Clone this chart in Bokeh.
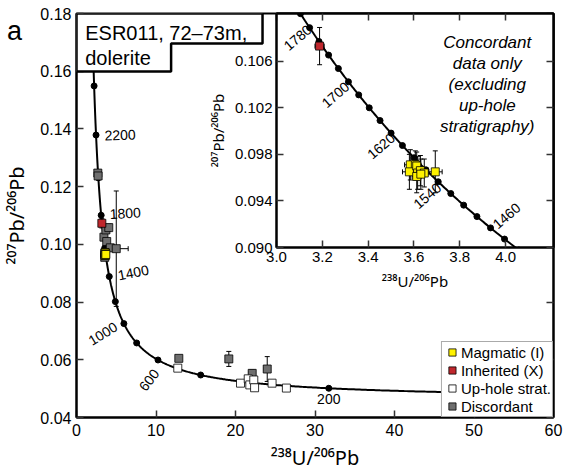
import numpy as np
from bokeh.plotting import figure
from bokeh.models import (ColumnDataSource, Whisker, TeeHead, Label, Legend, LegendItem,
                          LinearAxis, FixedTicker, PrintfTickFormatter, PolyAnnotation, Range1d, Div)
from bokeh.layouts import column
from bokeh.embed import file_html
from bokeh.resources import INLINE

FONT = "Liberation Sans"
LABEL_FONT = "Noto Sans"

# ---------------- data ----------------
magmatic_x = [3.584, 3.606, 3.580, 3.612, 3.616, 3.628, 3.645, 3.612, 3.630, 3.693]
magmatic_y = [0.0971, 0.0971, 0.0965, 0.0970, 0.0964, 0.0966, 0.0964, 0.0961, 0.0963, 0.0965]
magmatic_xerr = [0.025, 0.02, 0.03, 0.02, 0.02, 0.02, 0.02, 0.02, 0.02, 0.03]
magmatic_yerr = [0.0013, 0.0012, 0.0015, 0.0012, 0.0014, 0.0013, 0.0012, 0.0014, 0.0013, 0.0018]

inherited_x = [3.188]
inherited_y = [0.1073]
inherited_xerr = [0.02]
inherited_yerr = [0.0016]

uphole_x = [12.74, 20.63, 21.6, 21.8, 22.3, 22.4, 24.6, 26.4]
uphole_y = [0.0571, 0.0519, 0.0534, 0.0513, 0.0530, 0.0503, 0.0519, 0.0502]
uphole_xerr = [0.3, 0.3, 0.3, 0.3, 0.3, 0.3, 0.3, 0.3]
uphole_yerr = [0.0005, 0.0006, 0.0006, 0.0007, 0.0007, 0.0007, 0.0006, 0.0006]

discordant_x = [2.68, 2.72, 3.45, 3.70, 4.06, 3.80, 4.25, 5.0, 3.55, 12.87, 19.16, 22.1, 23.99]
discordant_y = [0.1247, 0.1237, 0.1025, 0.1050, 0.1058, 0.1010, 0.0988, 0.0985, 0.0955,
                0.0605, 0.0603, 0.0553, 0.0568]
discordant_xerr = [0.05, 0.05, 0.1, 0.1, 0.1, 0.1, 0.15, 1.5, 0.1, 0.3, 0.3, 0.4, 0.4]
discordant_yerr = [0.0008, 0.0008, 0.0010, 0.0012, 0.0012, 0.0010, 0.0010, 0.0200, 0.0010,
                   0.0006, 0.0026, 0.0012, 0.0043]

x_ticks = [0, 10, 20, 30, 40, 50, 60]
y_ticks = [0.04, 0.06, 0.08, 0.10, 0.12, 0.14, 0.16, 0.18]
inset_x_ticks = [3.0, 3.2, 3.4, 3.6, 3.8, 4.0]
inset_y_ticks = [0.090, 0.094, 0.098, 0.102, 0.106]

# concordia age marks (Ma)
main_dot_ages = [200, 400, 600, 800, 1000, 1200, 1400, 1600, 1800, 2000, 2200, 2400, 2600]
main_label_ages = [2200, 1800, 1400, 1000, 600, 200]
inset_dot_ages = list(range(1400, 1901, 20))
inset_label_ages = [1780, 1700, 1620, 1540, 1460]

legend_labels = ["Magmatic (I)", "Inherited (X)", "Up-hole strat.", "Discordant"]
colors = {"mag": "#fff200", "inh": "#c0272d", "up": "#ffffff", "dis": "#6e6e6e"}

# Tera-Wasserburg concordia from the U decay constants
L238, L235, U_RATIO = 1.55125e-10, 9.8485e-10, 137.818


def concordia(ages_ma):
    t = np.asarray(ages_ma, dtype=float) * 1e6
    e8 = np.exp(L238 * t) - 1.0
    e5 = np.exp(L235 * t) - 1.0
    return 1.0 / e8, e5 / (e8 * U_RATIO)


def err_source(x, y, xe, ye):
    return ColumnDataSource(dict(
        x=x, y=y,
        xl=[a - b for a, b in zip(x, xe)], xu=[a + b for a, b in zip(x, xe)],
        yl=[a - b for a, b in zip(y, ye)], yu=[a + b for a, b in zip(y, ye)]))


def add_points(fig, src, color, size):
    for dim, base, up, lo in (("height", "x", "yu", "yl"), ("width", "y", "xu", "xl")):
        fig.add_layout(Whisker(source=src, base=base, upper=up, lower=lo, dimension=dim,
                               line_color="black", line_width=1,
                               upper_head=TeeHead(size=5, line_width=1),
                               lower_head=TeeHead(size=5, line_width=1)))
    return fig.scatter("x", "y", source=src, marker="square", size=size,
                       fill_color=color, line_color="black", line_width=0.8)


def style_axis(ax, ticks, fmt, size):
    ax.ticker = FixedTicker(ticks=ticks)
    ax.formatter = PrintfTickFormatter(format=fmt)
    ax.major_tick_in = 7
    ax.major_tick_out = 0
    ax.minor_tick_line_color = None
    ax.major_tick_line_color = "#333333"
    ax.major_tick_line_width = 1.5
    ax.axis_line_color = "black"
    ax.axis_line_width = 2
    ax.major_label_text_font = FONT
    ax.major_label_text_font_size = size
    ax.major_label_text_color = "black"
    ax.axis_label_text_font = LABEL_FONT
    ax.axis_label_text_font_style = "normal"
    ax.axis_label_text_color = "black"


def mirror_axis(fig, ticks, where):
    # tick marks only: labels are not painted
    ax = LinearAxis(ticker=FixedTicker(ticks=ticks), major_tick_in=7, major_tick_out=0,
                    minor_tick_line_color=None, major_tick_line_color="#333333",
                    major_tick_line_width=1.5, axis_line_color="black", axis_line_width=2,
                    major_label_text_font_size="1px", major_label_text_color=None,
                    major_label_standoff=0)
    fig.add_layout(ax, where)


# ---------------- main figure ----------------
p = figure(width=565, height=473, x_range=Range1d(0, 60), y_range=Range1d(0.04, 0.18),
           output_backend="svg", toolbar_location=None,
           min_border_left=76, min_border_right=12, min_border_top=13, min_border_bottom=56,
           background_fill_color="white", border_fill_color="white",
           outline_line_color="black", outline_line_width=2)
p.xgrid.visible = False
p.ygrid.visible = False
style_axis(p.xaxis[0], x_ticks, "%d", "16px")
style_axis(p.yaxis[0], y_ticks, "%.2f", "16px")
p.xaxis.axis_label = "²³⁸U/²⁰⁶Pb"
p.yaxis.axis_label = "²⁰⁷Pb/²⁰⁶Pb"
p.xaxis.axis_label_text_font_size = "20px"
p.yaxis.axis_label_text_font_size = "20px"
p.xaxis.major_label_standoff = 6
p.xaxis.axis_label_standoff = 5
p.yaxis.major_label_standoff = 5
p.yaxis.axis_label_standoff = 7
mirror_axis(p, y_ticks, "right")

cx, cy = concordia(np.geomspace(95, 2900, 500))
p.line(cx, cy, line_color="black", line_width=2)
dx, dy = concordia(main_dot_ages)
p.scatter(dx, dy, size=6, fill_color="black", line_color="black")

r_dis = add_points(p, err_source(discordant_x, discordant_y, discordant_xerr, discordant_yerr), colors["dis"], 8)
r_up = add_points(p, err_source(uphole_x, uphole_y, uphole_xerr, uphole_yerr), colors["up"], 8)
r_inh = add_points(p, err_source(inherited_x, inherited_y, inherited_xerr, inherited_yerr), colors["inh"], 8)
r_mag = add_points(p, err_source(magmatic_x, magmatic_y, magmatic_xerr, magmatic_yerr), colors["mag"], 8)

# age labels on the main concordia: (dx, dy) screen offsets, angle
main_label_style = {2200: (24, 0, 0.03), 1800: (24, 2, 0.05), 1400: (24, 4, 0.2),
                    1000: (-21, -10, 0.55), 600: (-9, -20, 0.9), 200: (0, -11, 0.0)}
lx, ly = concordia(main_label_ages)
for age, xx, yy in zip(main_label_ages, lx, ly):
    ox, oy, ang = main_label_style[age]
    p.add_layout(Label(x=xx, y=yy, text=str(age), x_offset=ox, y_offset=oy, angle=ang,
                       text_align="center", text_baseline="middle",
                       text_font=FONT, text_font_size="14px", text_color="black"))

# sample box
p.add_layout(PolyAnnotation(xs=[0, 23.4, 23.4, 11.9, 11.9, 0],
                            ys=[0.18, 0.18, 0.1696, 0.1696, 0.1599, 0.1599],
                            fill_color="white", fill_alpha=1.0,
                            line_color="black", line_alpha=1.0, line_width=2.5))
p.add_layout(Label(x=1.1, y=0.1734, text="ESR011, 72–73m,", text_font=FONT,
                   text_font_size="20px", text_baseline="middle", text_color="black"))
p.add_layout(Label(x=1.1, y=0.1646, text="dolerite", text_font=FONT,
                   text_font_size="20px", text_baseline="middle", text_color="black"))

legend = Legend(items=[LegendItem(label=legend_labels[0], renderers=[r_mag]),
                       LegendItem(label=legend_labels[1], renderers=[r_inh]),
                       LegendItem(label=legend_labels[2], renderers=[r_up]),
                       LegendItem(label=legend_labels[3], renderers=[r_dis])],
                location="bottom_right", margin=0, padding=1, spacing=0,
                glyph_width=18, glyph_height=18, label_height=18, label_standoff=0,
                label_text_font=FONT, label_text_font_size="15px", label_text_color="black",
                border_line_color="#555555", border_line_width=1,
                background_fill_color="white", background_fill_alpha=1.0)
p.add_layout(legend)

# ---------------- inset figure ----------------
q = figure(width=365, height=300, x_range=Range1d(3.0, 4.209), y_range=Range1d(0.090, 0.1101),
           output_backend="svg", toolbar_location=None,
           min_border_left=75, min_border_right=12, min_border_top=13, min_border_bottom=53,
           background_fill_color="white", border_fill_alpha=0.0,
           outline_line_color="black", outline_line_width=2)
q.margin = (-473, 0, 173, 200)
q.xgrid.visible = False
q.ygrid.visible = False
style_axis(q.xaxis[0], inset_x_ticks, "%.1f", "15px")
style_axis(q.yaxis[0], inset_y_ticks, "%.3f", "15px")
q.xaxis.axis_label = "²³⁸U/²⁰⁶Pb"
q.yaxis.axis_label = "²⁰⁷Pb/²⁰⁶Pb"
q.xaxis.axis_label_text_font_size = "15px"
q.yaxis.axis_label_text_font_size = "15px"
q.xaxis.major_label_standoff = 4
q.xaxis.axis_label_standoff = 6
q.yaxis.major_label_standoff = 4
q.yaxis.axis_label_standoff = 4
mirror_axis(q, inset_x_ticks, "above")
mirror_axis(q, inset_y_ticks, "right")

icx, icy = concordia(np.linspace(1380, 1920, 300))
q.line(icx, icy, line_color="black", line_width=2)
idx, idy = concordia(inset_dot_ages)
q.scatter(idx, idy, size=6, fill_color="black", line_color="black")

add_points(q, err_source(inherited_x, inherited_y, inherited_xerr, inherited_yerr), colors["inh"], 8)
add_points(q, err_source(magmatic_x, magmatic_y, magmatic_xerr, magmatic_yerr), colors["mag"], 8)

inset_label_style = {1780: (-12, -10), 1700: (-13, -13), 1620: (-10, -13),
                     1540: (-11, -14), 1460: (16, 12)}
ilx, ily = concordia(inset_label_ages)
for age, xx, yy in zip(inset_label_ages, ilx, ily):
    ox, oy = inset_label_style[age]
    q.add_layout(Label(x=xx, y=yy, text=str(age), x_offset=ox, y_offset=oy, angle=0.71,
                       text_align="center", text_baseline="middle",
                       text_font=FONT, text_font_size="14px", text_color="black"))

note_lines = ["Concordant", "data only", "(excluding", "up-hole", "stratigraphy)"]
for i, line in enumerate(note_lines):
    q.add_layout(Label(x=3.92, y=0.1076, y_offset=-21 * i, text=line, text_align="center",
                       text_baseline="middle", text_font=FONT, text_font_size="17px",
                       text_font_style="italic", text_color="black"))

# panel letter, laid over the top-left corner of the page
letter = Div(text="a", width=30, height=40, margin=(-455, 0, 415, 7),
             styles={"font-family": FONT, "font-size": "27px", "line-height": "1",
                     "color": "black"})

layout = column(p, q, letter)
open("out.html", "w").write(file_html(layout, INLINE))
